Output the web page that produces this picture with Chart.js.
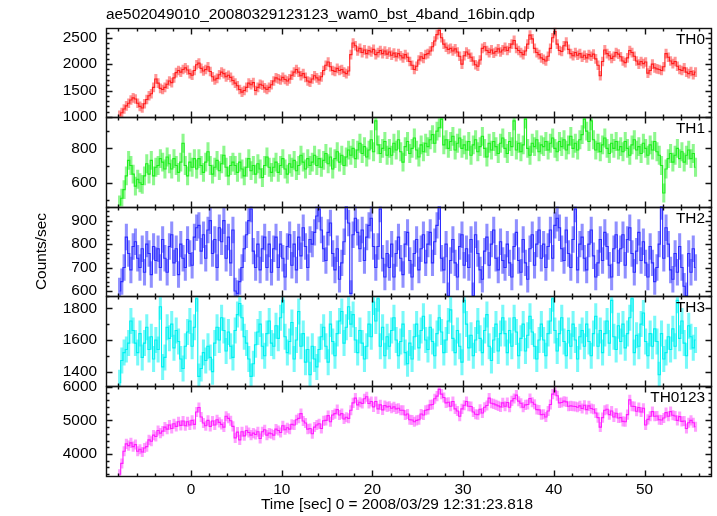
<!DOCTYPE html>
<html><head><meta charset="utf-8">
<script src="https://cdn.jsdelivr.net/npm/chart.js@4"></script>
<style>
html,body{margin:0;padding:0;background:#fff;}
#wrap{position:relative;width:717px;height:516px;background:#fff;overflow:hidden;}
#wrap canvas{position:absolute;left:0;top:0;}
</style></head><body>
<div id="wrap">
<canvas id="c0" width="717" height="516"></canvas>
<canvas id="c1" width="717" height="516"></canvas>
<canvas id="c2" width="717" height="516"></canvas>
<canvas id="c3" width="717" height="516"></canvas>
<canvas id="c4" width="717" height="516"></canvas>
</div>
<script>
// ---------- data ----------
const TITLE = 'ae502049010_20080329123123_wam0_bst_4band_16bin.qdp';
const X_TITLE = 'Time [sec] 0 = 2008/03/29 12:31:23.818';
const Y_TITLE = 'Counts/sec';
const BAND_LABELS = ['TH0', 'TH1', 'TH2', 'TH3', 'TH0123'];
const T_START = -7.875;   // centre of first bin [s]
const T_BIN = 0.25;       // bin width [s]
const X_RANGE = [-9.37, 57.33];
const X_MAJOR = 10, X_MINOR = 2;

const TH0_RATE = [
1030,1080,1150,1210,1260,1320,1360,1340,1260,1200,1170,1250,1330,1400,1440,1560,1720,
1640,1540,1520,1560,1620,1680,1650,1740,1840,1880,1850,1900,1930,1890,1820,1790,1880,
1990,2020,1920,1870,1900,1950,1860,1760,1700,1730,1800,1850,1820,1760,1790,1750,1690,
1640,1590,1520,1470,1500,1560,1640,1610,1650,1500,1560,1620,1600,1550,1520,1560,1610,
1680,1740,1720,1700,1750,1710,1680,1720,1790,1850,1900,1850,1780,1820,1750,1680,1660,
1720,1780,1740,1700,1760,1880,1980,2040,1950,1880,1860,1920,1880,1900,1850,1820,1870,
2180,2400,2350,2250,2300,2220,2270,2200,2260,2230,2280,2180,2220,2260,2200,2250,2190,
2230,2170,2210,2140,2200,2160,2120,2180,2130,2050,1980,1900,1960,2080,2140,2110,2180,
2200,2250,2330,2440,2560,2640,2500,2380,2320,2280,2300,2250,2290,2230,2150,2000,2160,
2230,2190,2130,2060,1990,1960,2080,2300,2330,2260,2220,2270,2210,2240,2290,2230,2270,
2320,2260,2310,2380,2450,2300,2260,2220,2180,2250,2380,2550,2480,2300,2220,2180,2120,
2090,2060,2150,2300,2500,2620,2380,2260,2240,2350,2420,2280,2200,2160,2220,2170,2200,
2130,2170,2120,2180,2150,2190,2100,1980,1780,2050,2270,2200,2160,2110,2150,2220,2190,
2140,2060,2030,2120,2260,2220,2150,2060,2000,2050,2010,2040,1830,1880,2000,1930,1910,
1900,1880,1950,2200,2130,2060,2010,2050,1960,1900,1880,1930,1850,1820,1860,1800,1850];

const TH1_RATE = [
470,510,560,640,730,700,650,580,620,600,590,640,710,650,730,640,690,
700,740,720,680,750,710,680,740,700,660,720,830,700,640,720,690,740,
680,740,700,660,720,780,700,650,690,730,670,710,760,690,640,700,720,
700,660,720,680,640,690,740,670,700,650,710,680,630,700,750,690,660,
690,720,660,700,740,680,650,710,690,730,670,700,760,720,680,740,700,
720,760,700,740,690,730,770,710,750,680,740,780,720,760,700,750,790,
760,800,740,790,830,770,810,750,790,850,780,960,820,770,800,840,760,
800,760,830,790,850,780,720,810,840,770,800,860,790,750,820,780,830,
810,850,880,830,900,920,970,820,850,800,840,870,790,830,860,800,820,
790,840,760,820,850,780,810,870,800,750,830,790,840,810,770,830,860,
800,770,840,810,960,790,830,780,820,970,800,760,830,810,850,780,820,
810,840,790,830,860,800,780,840,810,850,790,820,870,800,830,790,850,
880,970,900,840,960,850,790,830,780,820,860,800,770,830,800,840,790,
810,780,840,800,760,820,850,790,810,770,830,800,760,820,790,840,780,
760,700,540,680,740,770,720,760,800,740,780,720,760,790,740,770,690];

const TH2_RATE = [
600,640,700,830,760,690,790,810,740,700,780,680,800,760,670,790,730,
780,700,820,740,680,790,840,720,780,670,800,740,700,820,760,710,830,
870,880,770,840,740,860,900,760,820,700,870,810,900,740,830,720,860,
600,590,640,700,780,840,900,950,770,700,800,690,780,830,700,800,680,
780,830,700,800,740,660,790,840,710,800,690,830,750,870,790,700,820,
800,850,920,950,860,780,730,850,890,760,690,780,650,720,810,960,890,
590,840,910,850,780,860,730,830,880,910,790,700,790,950,740,660,760,
700,800,660,760,830,740,670,800,850,730,660,760,820,690,780,840,720,
800,850,720,810,880,960,740,690,800,580,730,820,720,660,790,840,710,
780,700,820,580,840,760,690,650,770,830,710,800,860,740,690,810,730,
700,800,720,660,790,850,730,680,820,720,650,780,840,710,800,860,740,
800,700,790,860,740,880,910,870,780,730,860,760,700,820,950,690,800,
830,740,690,800,860,750,660,720,820,730,850,790,710,660,780,840,720,
780,840,710,820,870,760,680,770,850,730,810,720,660,790,720,640,700,
800,960,740,870,800,690,650,760,680,790,700,620,580,760,680,780,700];

const TH3_RATE = [
1330,1470,1520,1540,1580,1720,1660,1580,1520,1640,1490,1580,1680,1540,1620,1480,1600,
1540,1810,1430,1490,1680,1610,1700,1550,1660,1590,1480,1420,1560,1650,1720,1560,1680,
1860,1370,1420,1520,1470,1560,1490,1400,1580,1680,1600,1740,1660,1530,1650,1560,1490,
1660,1760,1830,1740,1620,1580,1480,1370,1450,1570,1650,1700,1560,1500,1640,1720,1580,
1560,1690,1610,1740,1850,1620,1520,1590,1710,1480,1600,1780,1560,1640,1460,1540,1380,
1560,1480,1430,1540,1620,1680,1560,1460,1700,1590,1500,1640,1720,1780,1580,1680,1810,
1700,1760,1600,1520,1660,1580,1480,1560,1700,1620,1840,1720,1860,1560,1680,1500,1620,
1560,1660,1740,1600,1500,1590,1700,1520,1450,1580,1480,1620,1700,1550,1660,1750,1600,
1540,1680,1590,1500,1640,1740,1650,1520,1600,1720,1790,1610,1520,1660,1560,1460,1850,
1700,1550,1630,1500,1600,1720,1610,1520,1660,1760,1560,1470,1600,1700,1530,1640,1740,
1640,1520,1660,1560,1740,1650,1500,1610,1700,1530,1630,1750,1650,1560,1480,1600,1700,
1600,1500,1640,1720,1860,1660,1530,1640,1740,1590,1500,1660,1560,1700,1600,1480,1620,
1660,1560,1700,1590,1500,1640,1750,1560,1660,1520,1640,1720,1580,1850,1620,1540,1690,
1590,1700,1550,1640,1740,1860,1520,1630,1560,1700,1770,1590,1500,1640,1560,1670,1590,
1380,1640,1480,1520,1620,1540,1670,1560,1850,1610,1720,1580,1500,1690,1620,1550,1600];

const TH0123_RATE = [
3400,3720,4080,4300,4250,4330,4220,4280,4080,4140,4060,4180,4220,4420,4380,4560,4520,
4700,4620,4680,4800,4740,4860,4760,4900,4820,4960,4850,4980,4840,4960,4860,5000,4880,
5250,5380,5100,4920,4840,5000,4820,4980,4860,5020,4940,4880,4800,5120,5060,4990,4820,
4480,4650,4420,4660,4540,4700,4640,4560,4620,4580,4660,4460,4660,4720,4560,4620,4600,
4560,4740,4700,4640,4840,4720,4780,4740,4880,4860,5020,5060,5200,4980,4920,4740,4760,
4600,4800,4860,4900,4760,4990,5000,5140,4960,5160,5200,5320,5160,5200,5040,5090,5060,
5300,5520,5660,5460,5540,5500,5640,5700,5500,5560,5400,5560,5340,5460,5310,5440,5400,
5420,5360,5400,5340,5360,5300,5300,5160,5190,5020,5010,4960,5000,5020,5190,5160,5300,
5320,5460,5470,5640,5720,5920,5780,5680,5520,5540,5420,5560,5340,5280,5120,5340,5450,
5560,5420,5410,5250,5180,5170,5330,5220,5390,5440,5660,5510,5490,5460,5430,5400,5520,
5420,5530,5390,5580,5650,5750,5570,5510,5390,5460,5470,5650,5540,5480,5320,5310,5170,
5180,5100,5280,5470,5780,5880,5730,5520,5530,5570,5550,5420,5430,5420,5410,5390,5430,
5350,5450,5320,5430,5350,5330,5220,5080,4800,5080,5300,5330,5170,5280,5100,5210,5070,
5080,4970,4960,5170,5610,5420,5410,5270,5380,5250,5360,4860,5030,5120,5260,5120,5130,
5020,5010,5070,5230,5120,5260,5150,5130,5000,5110,4970,4980,4760,4930,5000,4930,4810];

// 1-sigma errors of the rates (counts/sec)
const ERRORS = [85, 53, 55, 80, 140];

// y-axis ranges and tick steps per panel
const Y_RANGES = [[1000, 2690], [461, 983], [577, 960], [1308, 1875], [3349, 6015]];
const Y_MAJOR = [500, 200, 100, 200, 1000];
const Y_MINOR = [100, 100, 20, 100, 200];

// ---------- style / layout ----------
const SERIES = [TH0_RATE, TH1_RATE, TH2_RATE, TH3_RATE, TH0123_RATE];
const TIMES = TH0_RATE.map((_, i) => T_START + i * T_BIN);
const LINE_COLORS = ['#ff1e1e', '#1eee1e', '#2c2cff', '#00f0f0', '#ff1eff'];
const ERR_COLORS = ['rgba(255,80,80,0.6)', 'rgba(50,240,50,0.55)', 'rgba(70,70,255,0.6)',
                    'rgba(30,245,245,0.6)', 'rgba(255,80,255,0.55)'];
const PANEL_EDGES = [27.3, 116.9, 206.6, 296.4, 386.2, 475.9];
const PLOT_LEFT = 106, PLOT_RIGHT = 711, W = 717, H = 516;
const FONT = '"Liberation Sans", Arial, Helvetica, sans-serif';
const FS = 15.4;

function stepTicks(scale, step) {
  const t = [];
  for (let v = Math.ceil(scale.min / step - 1e-9) * step; v <= scale.max + 1e-9; v += step) t.push({value: v});
  scale.ticks = t;
}

const panelDeco = {
  id: 'panelDeco',
  afterDraw(chart, args, opts) {
    const {ctx, chartArea: a} = chart;
    const x = chart.scales.x, y = chart.scales.y;
    ctx.save();
    ctx.strokeStyle = '#111';
    ctx.lineWidth = 1.4;
    const L = Math.round(a.left) + 0.5, R = Math.round(a.right) + 0.5;
    const T = Math.round(a.top) + 0.5, B = Math.round(a.bottom) + 0.5;
    ctx.strokeRect(L, T, R - L, B - T);
    ctx.beginPath();
    for (let v = Math.ceil(x.min / X_MINOR) * X_MINOR; v <= x.max; v += X_MINOR) {
      const px = Math.round(x.getPixelForValue(v)) + 0.5;
      const major = Math.abs(Math.round(v / X_MAJOR) * X_MAJOR - v) < 1e-6;
      const len = major ? 6 : 3;
      ctx.moveTo(px, B); ctx.lineTo(px, B - len);
      ctx.moveTo(px, T); ctx.lineTo(px, T + len);
    }
    for (let v = Math.ceil(y.min / opts.minor) * opts.minor; v <= y.max; v += opts.minor) {
      const py = Math.round(y.getPixelForValue(v)) + 0.5;
      const major = Math.abs(Math.round(v / opts.major) * opts.major - v) < 1e-6;
      const len = major ? 6 : 3;
      ctx.moveTo(L, py); ctx.lineTo(L + len, py);
      ctx.moveTo(R, py); ctx.lineTo(R - len, py);
    }
    ctx.stroke();
    ctx.fillStyle = '#000';
    ctx.font = FS + 'px ' + FONT;
    ctx.textAlign = 'right';
    ctx.textBaseline = 'middle';
    ctx.fillText(opts.label, a.right - 6, a.top + 11.7);
    if (opts.xTitle) {
      ctx.textAlign = 'center';
      ctx.fillText(opts.xTitle, 397, 505);
    }
    ctx.restore();
  }
};

function buildPanel(idx) {
  const isFirst = idx === 0, isLast = idx === 4;
  const vals = SERIES[idx], err = ERRORS[idx];
  const top = PANEL_EDGES[idx], bottom = PANEL_EDGES[idx + 1];
  new Chart(document.getElementById('c' + idx), {
    type: 'line',
    data: {
      datasets: [
        {
          type: 'line', label: BAND_LABELS[idx],
          data: vals.map((v, i) => ({x: TIMES[i], y: v})),
          stepped: 'middle', borderColor: LINE_COLORS[idx], borderWidth: 1.1,
          pointRadius: 0, fill: false, tension: 0, order: 0
        },
        {
          type: 'bar', label: BAND_LABELS[idx] + ' error',
          data: vals.map((v, i) => ({x: TIMES[i], y: [v - err, v + err]})),
          backgroundColor: ERR_COLORS[idx], borderWidth: 0, barThickness: 2.4, order: 1
        }
      ]
    },
    options: {
      responsive: false, animation: false, events: [],
      layout: {padding: {left: 0, right: W - PLOT_RIGHT, top: isFirst ? 0 : top, bottom: isLast ? 0 : H - bottom}},
      plugins: {
        legend: {display: false}, tooltip: {enabled: false},
        title: {display: isFirst, text: TITLE, align: 'start', fullSize: false, color: '#000',
                font: {family: FONT, size: FS, weight: 'normal'}, padding: {top: 5.8, bottom: 3.5}},
        panelDeco: {label: BAND_LABELS[idx], major: Y_MAJOR[idx], minor: Y_MINOR[idx], xTitle: isLast ? X_TITLE : null}
      },
      scales: {
        x: {
          type: 'linear', min: X_RANGE[0], max: X_RANGE[1], offset: false, display: isLast,
          grid: {display: false, drawTicks: false}, border: {display: false},
          ticks: {padding: 5, color: '#000', maxRotation: 0, minRotation: 0, autoSkip: false,
                  font: {family: FONT, size: FS}, callback: v => String(v)},
          afterBuildTicks: s => stepTicks(s, X_MAJOR),
          afterFit: s => { if (isLast) s.height = H - PANEL_EDGES[5]; }
        },
        y: {
          type: 'linear', min: Y_RANGES[idx][0], max: Y_RANGES[idx][1],
          grid: {display: false, drawTicks: false}, border: {display: false},
          ticks: {padding: 9, color: '#000', autoSkip: false, font: {family: FONT, size: FS},
                  callback: v => String(v)},
          afterBuildTicks: s => stepTicks(s, Y_MAJOR[idx]),
          title: {display: idx === 2, text: Y_TITLE, color: '#000', font: {family: FONT, size: FS},
                  padding: {top: 32.3, bottom: 0}},
          afterFit: s => { s.width = PLOT_LEFT; }
        }
      }
    },
    plugins: [panelDeco]
  });
}
for (let i = 0; i < 5; i++) buildPanel(i);
</script>
</body></html>
